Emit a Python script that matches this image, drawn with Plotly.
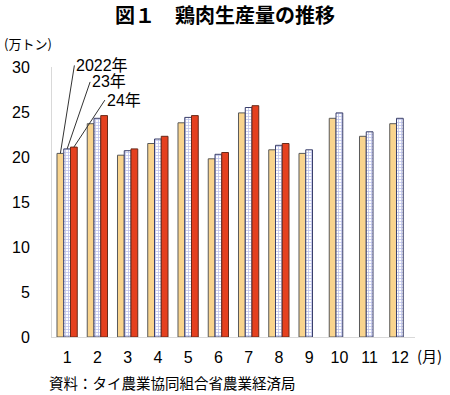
import plotly.graph_objects as go

months = ["1", "2", "3", "4", "5", "6", "7", "8", "9", "10", "11", "12"]
y2022 = [20.4, 23.7, 20.2, 21.5, 23.8, 19.8, 24.9, 20.8, 20.4, 24.3, 22.3, 23.7]
y2023 = [20.9, 24.3, 20.7, 22.0, 24.4, 20.3, 25.5, 21.3, 20.8, 24.9, 22.8, 24.3]
y2024 = [21.1, 24.6, 20.9, 22.3, 24.6, 20.5, 25.7, 21.5, None, None, None, None]
series_names = ["2022年", "23年", "24年"]
yticks = [0, 5, 10, 15, 20, 25, 30]

JP = "Noto Sans CJK JP"
NUM = "Liberation Sans, Arial, Noto Sans CJK JP"

fig = go.Figure()
fig.add_trace(go.Bar(x=months, y=y2022, name=series_names[0],
                     marker=dict(color="#F9D48E", line=dict(color="#5A5A5A", width=1))))
fig.add_trace(go.Bar(x=months, y=y2023, name=series_names[1],
                     marker=dict(color="#FFFFFF", line=dict(color="#3A3F6A", width=1),
                                 pattern=dict(shape="+", fgcolor="#7883D4", bgcolor="#FFFFFF",
                                              size=3, solidity=0.45))))
fig.add_trace(go.Bar(x=months, y=y2024, name=series_names[2],
                     marker=dict(color="#E5401F", line=dict(color="#6A2A1A", width=1))))

# leader-line labels pointing at January bars
offs = [-0.223, 0.0, 0.223]
vals = [y2022[0], y2023[0], y2024[0]]
tails = [(14, -88), (23, -67), (31, -47)]
for name, o, v, (ax, ay) in zip(series_names, offs, vals, tails):
    fig.add_annotation(x=o, y=v, xref="x", yref="y", text=name, showarrow=True,
                       arrowhead=0, arrowwidth=1, arrowcolor="#333333",
                       ax=ax, ay=ay, xanchor="left", yanchor="middle", standoff=0,
                       font=dict(family=NUM, size=16, color="#000000"))

fig.add_annotation(text="<b>図１　鶏肉生産量の推移</b>", xref="paper", yref="paper",
                   x=(225 - 52) / 363, y=(337 - 14) / 270, xanchor="center", yanchor="middle",
                   showarrow=False, font=dict(family=JP, size=20, color="#000000"))
fig.add_annotation(text="(万トン)", xref="paper", yref="paper",
                   x=(2 - 52) / 363, y=(337 - 44) / 270, xanchor="left", yanchor="middle",
                   showarrow=False, font=dict(family=JP, size=13, color="#000000"))
fig.add_annotation(text="(月)", xref="paper", yref="paper",
                   x=(415 - 52) / 363, y=(337 - 355) / 270, xanchor="left", yanchor="middle",
                   showarrow=False, font=dict(family=JP, size=15, color="#000000"))
fig.add_annotation(text="資料：タイ農業協同組合省農業経済局", xref="paper", yref="paper",
                   x=(47 - 52) / 363, y=(337 - 382) / 270, xanchor="left", yanchor="middle",
                   showarrow=False, font=dict(family=JP, size=14.5, color="#000000"))

fig.update_layout(
    width=450, height=395,
    margin=dict(l=52, r=35, t=67, b=58),
    paper_bgcolor="white", plot_bgcolor="white",
    barmode="group", bargap=0.33, bargroupgap=0,
    showlegend=False,
    font=dict(family=NUM, size=16, color="#000000"),
)
fig.update_xaxes(type="category", showline=True, linecolor="#D9D9D9", linewidth=1,
                 showgrid=False, ticks="outside", ticklen=6, tickcolor="rgba(0,0,0,0)",
                 tickfont=dict(family=NUM, size=16))
fig.update_yaxes(range=[0, 30], tickvals=yticks, showline=True, linecolor="#D9D9D9",
                 linewidth=1, showgrid=False, zeroline=False, ticks="outside", ticklen=18,
                 tickcolor="rgba(0,0,0,0)", tickfont=dict(family=NUM, size=16))

fig.write_html("out.html", config={"displayModeBar": False},
               post_script="document.body.style.margin='0';document.body.style.overflow='hidden';")
